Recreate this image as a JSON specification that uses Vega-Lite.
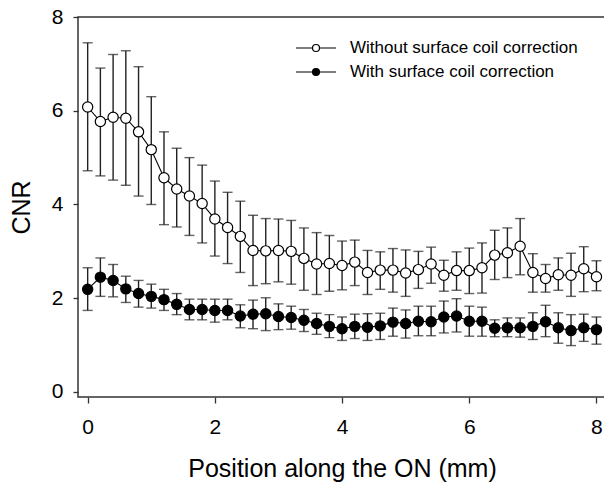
{
  "$schema": "https://vega.github.io/schema/vega-lite/v6.json",
  "autosize": {"type": "none"},
  "padding": {"left": 78, "top": 17, "right": 0, "bottom": 89},
  "width": 528,
  "height": 380,
  "background": "white",
  "config": {
    "font": "Liberation Sans",
    "view": {"stroke": "#333", "strokeWidth": 1.5},
    "axis": {"grid": false, "domain": false, "tickColor": "#333", "tickWidth": 1.3, "labelColor": "black", "titleColor": "black", "labelFont": "Liberation Sans", "titleFont": "Liberation Sans", "titleFontWeight": "normal"}
  },
  "data": {
    "values": [
      {"x": 0.0, "s": "Without surface coil correction", "y": 6.08, "lo": 4.72, "hi": 7.45},
      {"x": 0.2, "s": "Without surface coil correction", "y": 5.77, "lo": 4.61, "hi": 6.91},
      {"x": 0.4, "s": "Without surface coil correction", "y": 5.86, "lo": 4.52, "hi": 7.20},
      {"x": 0.6, "s": "Without surface coil correction", "y": 5.84, "lo": 4.41, "hi": 7.28},
      {"x": 0.8, "s": "Without surface coil correction", "y": 5.55, "lo": 4.18, "hi": 6.94},
      {"x": 1.0, "s": "Without surface coil correction", "y": 5.17, "lo": 4.00, "hi": 6.30},
      {"x": 1.2, "s": "Without surface coil correction", "y": 4.57, "lo": 3.57, "hi": 5.55},
      {"x": 1.4, "s": "Without surface coil correction", "y": 4.33, "lo": 3.52, "hi": 5.20},
      {"x": 1.6, "s": "Without surface coil correction", "y": 4.18, "lo": 3.34, "hi": 5.00},
      {"x": 1.8, "s": "Without surface coil correction", "y": 4.02, "lo": 3.18, "hi": 4.84},
      {"x": 2.0, "s": "Without surface coil correction", "y": 3.69, "lo": 2.90, "hi": 4.50},
      {"x": 2.2, "s": "Without surface coil correction", "y": 3.51, "lo": 2.74, "hi": 4.26},
      {"x": 2.4, "s": "Without surface coil correction", "y": 3.32, "lo": 2.55, "hi": 4.07},
      {"x": 2.6, "s": "Without surface coil correction", "y": 3.02, "lo": 2.27, "hi": 3.77},
      {"x": 2.8, "s": "Without surface coil correction", "y": 3.01, "lo": 2.31, "hi": 3.70},
      {"x": 3.0, "s": "Without surface coil correction", "y": 3.02, "lo": 2.35, "hi": 3.69},
      {"x": 3.2, "s": "Without surface coil correction", "y": 3.00, "lo": 2.30, "hi": 3.66},
      {"x": 3.4, "s": "Without surface coil correction", "y": 2.85, "lo": 2.17, "hi": 3.50},
      {"x": 3.6, "s": "Without surface coil correction", "y": 2.73, "lo": 2.08, "hi": 3.40},
      {"x": 3.8, "s": "Without surface coil correction", "y": 2.74, "lo": 2.15, "hi": 3.34},
      {"x": 4.0, "s": "Without surface coil correction", "y": 2.70, "lo": 2.18, "hi": 3.22},
      {"x": 4.2, "s": "Without surface coil correction", "y": 2.77, "lo": 2.27, "hi": 3.24},
      {"x": 4.4, "s": "Without surface coil correction", "y": 2.55, "lo": 2.08, "hi": 3.02},
      {"x": 4.6, "s": "Without surface coil correction", "y": 2.60, "lo": 2.19, "hi": 2.99},
      {"x": 4.8, "s": "Without surface coil correction", "y": 2.60, "lo": 2.13, "hi": 3.06},
      {"x": 5.0, "s": "Without surface coil correction", "y": 2.54, "lo": 2.04, "hi": 3.03},
      {"x": 5.2, "s": "Without surface coil correction", "y": 2.61, "lo": 2.21, "hi": 3.00},
      {"x": 5.4, "s": "Without surface coil correction", "y": 2.73, "lo": 2.32, "hi": 3.09},
      {"x": 5.6, "s": "Without surface coil correction", "y": 2.49, "lo": 2.15, "hi": 2.81},
      {"x": 5.8, "s": "Without surface coil correction", "y": 2.59, "lo": 2.17, "hi": 2.99},
      {"x": 6.0, "s": "Without surface coil correction", "y": 2.59, "lo": 2.10, "hi": 3.07},
      {"x": 6.2, "s": "Without surface coil correction", "y": 2.65, "lo": 2.11, "hi": 3.18},
      {"x": 6.4, "s": "Without surface coil correction", "y": 2.92, "lo": 2.40, "hi": 3.45},
      {"x": 6.6, "s": "Without surface coil correction", "y": 2.97, "lo": 2.44, "hi": 3.50},
      {"x": 6.8, "s": "Without surface coil correction", "y": 3.11, "lo": 2.50, "hi": 3.70},
      {"x": 7.0, "s": "Without surface coil correction", "y": 2.55, "lo": 2.13, "hi": 2.95},
      {"x": 7.2, "s": "Without surface coil correction", "y": 2.42, "lo": 2.13, "hi": 2.72},
      {"x": 7.4, "s": "Without surface coil correction", "y": 2.50, "lo": 2.17, "hi": 2.86},
      {"x": 7.6, "s": "Without surface coil correction", "y": 2.49, "lo": 2.04, "hi": 2.96},
      {"x": 7.8, "s": "Without surface coil correction", "y": 2.63, "lo": 2.14, "hi": 3.10},
      {"x": 8.0, "s": "Without surface coil correction", "y": 2.46, "lo": 2.16, "hi": 2.80},
      {"x": 0.0, "s": "With surface coil correction", "y": 2.19, "lo": 1.74, "hi": 2.65},
      {"x": 0.2, "s": "With surface coil correction", "y": 2.45, "lo": 2.04, "hi": 2.86},
      {"x": 0.4, "s": "With surface coil correction", "y": 2.38, "lo": 2.03, "hi": 2.72},
      {"x": 0.6, "s": "With surface coil correction", "y": 2.20, "lo": 1.91, "hi": 2.47},
      {"x": 0.8, "s": "With surface coil correction", "y": 2.10, "lo": 1.81, "hi": 2.38},
      {"x": 1.0, "s": "With surface coil correction", "y": 2.04, "lo": 1.79, "hi": 2.30},
      {"x": 1.2, "s": "With surface coil correction", "y": 1.97, "lo": 1.74, "hi": 2.19},
      {"x": 1.4, "s": "With surface coil correction", "y": 1.87, "lo": 1.65, "hi": 2.10},
      {"x": 1.6, "s": "With surface coil correction", "y": 1.76, "lo": 1.54, "hi": 1.98},
      {"x": 1.8, "s": "With surface coil correction", "y": 1.76, "lo": 1.54, "hi": 1.98},
      {"x": 2.0, "s": "With surface coil correction", "y": 1.74, "lo": 1.49, "hi": 1.98},
      {"x": 2.2, "s": "With surface coil correction", "y": 1.74, "lo": 1.54, "hi": 1.98},
      {"x": 2.4, "s": "With surface coil correction", "y": 1.62, "lo": 1.37, "hi": 1.86},
      {"x": 2.6, "s": "With surface coil correction", "y": 1.66, "lo": 1.35, "hi": 1.96},
      {"x": 2.8, "s": "With surface coil correction", "y": 1.67, "lo": 1.31, "hi": 2.01},
      {"x": 3.0, "s": "With surface coil correction", "y": 1.61, "lo": 1.33, "hi": 1.88},
      {"x": 3.2, "s": "With surface coil correction", "y": 1.59, "lo": 1.34, "hi": 1.83},
      {"x": 3.4, "s": "With surface coil correction", "y": 1.53, "lo": 1.29, "hi": 1.76},
      {"x": 3.6, "s": "With surface coil correction", "y": 1.46, "lo": 1.23, "hi": 1.68},
      {"x": 3.8, "s": "With surface coil correction", "y": 1.40, "lo": 1.16, "hi": 1.65},
      {"x": 4.0, "s": "With surface coil correction", "y": 1.35, "lo": 1.10, "hi": 1.60},
      {"x": 4.2, "s": "With surface coil correction", "y": 1.40, "lo": 1.14, "hi": 1.66},
      {"x": 4.4, "s": "With surface coil correction", "y": 1.38, "lo": 1.10, "hi": 1.67},
      {"x": 4.6, "s": "With surface coil correction", "y": 1.41, "lo": 1.12, "hi": 1.68},
      {"x": 4.8, "s": "With surface coil correction", "y": 1.49, "lo": 1.19, "hi": 1.79},
      {"x": 5.0, "s": "With surface coil correction", "y": 1.46, "lo": 1.15, "hi": 1.75},
      {"x": 5.2, "s": "With surface coil correction", "y": 1.51, "lo": 1.20, "hi": 1.83},
      {"x": 5.4, "s": "With surface coil correction", "y": 1.50, "lo": 1.20, "hi": 1.83},
      {"x": 5.6, "s": "With surface coil correction", "y": 1.60, "lo": 1.26, "hi": 1.94},
      {"x": 5.8, "s": "With surface coil correction", "y": 1.62, "lo": 1.28, "hi": 1.99},
      {"x": 6.0, "s": "With surface coil correction", "y": 1.51, "lo": 1.19, "hi": 1.83},
      {"x": 6.2, "s": "With surface coil correction", "y": 1.51, "lo": 1.19, "hi": 1.81},
      {"x": 6.4, "s": "With surface coil correction", "y": 1.36, "lo": 1.18, "hi": 1.54},
      {"x": 6.6, "s": "With surface coil correction", "y": 1.37, "lo": 1.18, "hi": 1.58},
      {"x": 6.8, "s": "With surface coil correction", "y": 1.37, "lo": 1.17, "hi": 1.58},
      {"x": 7.0, "s": "With surface coil correction", "y": 1.40, "lo": 1.12, "hi": 1.69},
      {"x": 7.2, "s": "With surface coil correction", "y": 1.50, "lo": 1.18, "hi": 1.85},
      {"x": 7.4, "s": "With surface coil correction", "y": 1.37, "lo": 1.04, "hi": 1.69},
      {"x": 7.6, "s": "With surface coil correction", "y": 1.31, "lo": 0.99, "hi": 1.65},
      {"x": 7.8, "s": "With surface coil correction", "y": 1.37, "lo": 1.08, "hi": 1.66},
      {"x": 8.0, "s": "With surface coil correction", "y": 1.33, "lo": 1.02, "hi": 1.60}
    ]
  },
  "encoding": {
    "x": {
      "field": "x", "type": "quantitative",
      "scale": {"domain": [-0.152, 8.15], "nice": false, "zero": false},
      "axis": {"values": [0, 2, 4, 6, 8], "tickSize": 6, "labelFontSize": 21, "labelPadding": 13, "titleFontSize": 25, "titlePadding": 19, "title": "Position along the ON (mm)"}
    }
  },
  "layer": [
    {
      "mark": {"type": "errorbar", "ticks": {"size": 10, "color": "#222", "thickness": 1.4}, "rule": {"color": "#222", "strokeWidth": 1.4}},
      "encoding": {
        "y": {"field": "lo", "type": "quantitative",
          "scale": {"domain": [-0.107, 8], "nice": false, "zero": false},
          "axis": {"values": [0, 2, 4, 6, 8], "tickSize": 5, "labelFontSize": 21, "labelPadding": 10, "titleFontSize": 25, "titlePadding": 17, "title": "CNR"}},
        "y2": {"field": "hi"},
        "detail": {"field": "s"}
      }
    },
    {
      "mark": {"type": "line", "color": "black", "strokeWidth": 1.1},
      "encoding": {
        "y": {"field": "y", "type": "quantitative"},
        "detail": {"field": "s"}
      }
    },
    {
      "mark": {"type": "point", "shape": "circle", "filled": true, "size": 105, "stroke": "black", "strokeWidth": 1.2, "opacity": 1},
      "encoding": {
        "y": {"field": "y", "type": "quantitative"},
        "fill": {
          "field": "s", "type": "nominal",
          "scale": {"domain": ["Without surface coil correction", "With surface coil correction"], "range": ["white", "black"]},
          "legend": {
            "title": null, "orient": "none", "legendX": 227, "legendY": 20, "padding": 0,
            "symbolType": "M -2 0 L -0.35 0 M 0.35 0 A 0.35 0.35 0 1 1 -0.35 0 A 0.35 0.35 0 1 1 0.35 0 M 0.35 0 L 2 0",
            "symbolSize": 400, "symbolStrokeColor": "black", "symbolStrokeWidth": 1.2, "symbolOpacity": 1,
            "labelFontSize": 17, "labelFont": "Liberation Sans", "labelColor": "black", "labelOffset": 23, "rowPadding": 5, "labelLimit": 400
          }
        }
      }
    }
  ]
}
